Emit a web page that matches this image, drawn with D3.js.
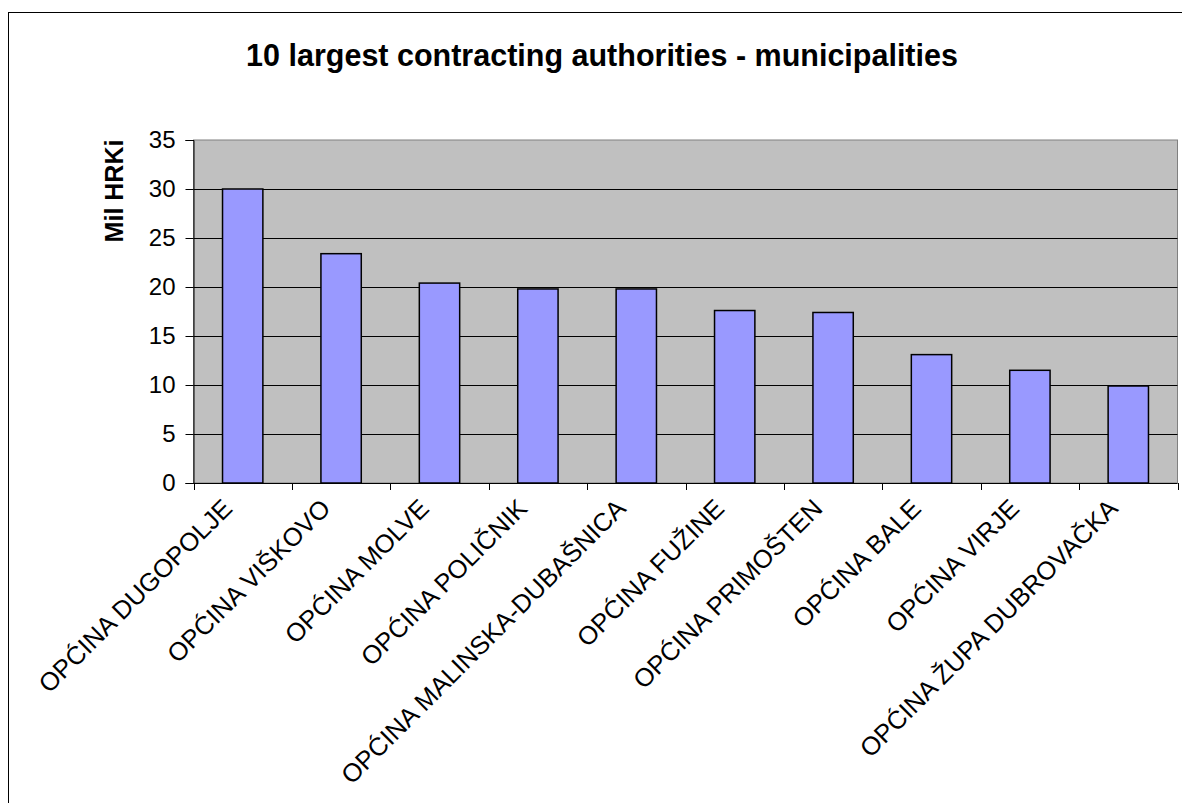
<!DOCTYPE html>
<html>
<head>
<meta charset="utf-8">
<script src="https://cdn.jsdelivr.net/npm/d3@7"></script>
<style>
  html, body { margin: 0; padding: 0; background: #fff; }
  svg { display: block; font-family: "Liberation Sans", Arial, sans-serif; }
</style>
</head>
<body>
<svg id="chart" width="1182" height="803"></svg>
<script>
const categories = [
  "OPĆINA DUGOPOLJE",
  "OPĆINA VIŠKOVO",
  "OPĆINA MOLVE",
  "OPĆINA POLIČNIK",
  "OPĆINA MALINSKA-DUBAŠNICA",
  "OPĆINA FUŽINE",
  "OPĆINA PRIMOŠTEN",
  "OPĆINA BALE",
  "OPĆINA VIRJE",
  "OPĆINA ŽUPA DUBROVAČKA"
];
const values = [30.0, 23.4, 20.4, 19.8, 19.8, 17.6, 17.4, 13.1, 11.5, 9.9];
const yTicks = [0, 5, 10, 15, 20, 25, 30, 35];
const titleText = "10 largest contracting authorities - municipalities";
const yTitle = "Mil HRKi";

(function () {
const svg = d3.select("#chart");
const pLeft = 193.5, pRight = 1177.5, pTop = 140, pBottom = 483;

// outer frame (extends beyond the visible window on right/bottom)
svg.append("rect")
  .attr("x", 8.5).attr("y", 12.5)
  .attr("width", 1300).attr("height", 1000)
  .attr("fill", "#fff").attr("stroke", "#000").attr("stroke-width", 1);

const x = d3.scaleBand().domain(categories).range([pLeft, pRight])
  .paddingInner(0.59).paddingOuter(0.295);
const y = d3.scaleLinear().domain([0, 35]).range([pBottom, pTop]);

// plot area
svg.append("rect")
  .attr("x", pLeft).attr("y", pTop)
  .attr("width", pRight - pLeft).attr("height", pBottom - pTop)
  .attr("fill", "#C0C0C0").attr("stroke", "#808080").attr("stroke-width", 1);

// gridlines
svg.append("g").selectAll("line")
  .data(yTicks.filter(t => t > 0 && t < 35))
  .join("line")
  .attr("x1", pLeft).attr("x2", pRight)
  .attr("y1", d => Math.round(y(d)) + 0.5).attr("y2", d => Math.round(y(d)) + 0.5)
  .attr("stroke", "#000").attr("stroke-width", 1);

// bars
svg.append("g").selectAll("rect")
  .data(categories)
  .join("rect")
  .attr("x", d => x(d))
  .attr("y", (d, i) => y(values[i]))
  .attr("width", x.bandwidth())
  .attr("height", (d, i) => y(0) - y(values[i]))
  .attr("fill", "#9999FF").attr("stroke", "#000").attr("stroke-width", 1.5);

// y axis
const yAxis = d3.axisLeft(y).tickValues(yTicks).tickSize(8).tickPadding(10);
const yg = svg.append("g").attr("transform", `translate(${pLeft},0)`).call(yAxis);
yg.select(".domain").attr("stroke", "#000");
yg.selectAll(".tick line").attr("stroke", "#000");
yg.selectAll("text").attr("font-size", 24).attr("fill", "#000")
  .attr("font-family", "Liberation Sans, Arial, sans-serif");

// x axis line and tick marks at category boundaries
const step = x.step();
const boundaries = d3.range(categories.length + 1).map(i => pLeft + i * step);
svg.append("line")
  .attr("x1", pLeft).attr("x2", pRight)
  .attr("y1", pBottom + 0.5).attr("y2", pBottom + 0.5)
  .attr("stroke", "#000");
svg.append("g").selectAll("line")
  .data(boundaries)
  .join("line")
  .attr("x1", d => Math.round(d) + 0.5).attr("x2", d => Math.round(d) + 0.5)
  .attr("y1", pBottom).attr("y2", pBottom + 7)
  .attr("stroke", "#000");

// category labels
svg.append("g").selectAll("text")
  .data(categories)
  .join("text")
  .attr("transform", d => `translate(${x(d) + x.bandwidth() / 2 - 9},${pBottom + 27}) rotate(-45)`)
  .attr("text-anchor", "end")
  .attr("font-size", 25.5)
  .attr("fill", "#000")
  .text(d => d);

// title
svg.append("text")
  .attr("x", 602).attr("y", 66)
  .attr("text-anchor", "middle")
  .attr("font-size", 30.5).attr("font-weight", "bold")
  .text(titleText);

// y-axis title
svg.append("text")
  .attr("transform", `translate(123,191) rotate(-90)`)
  .attr("text-anchor", "middle")
  .attr("font-size", 25).attr("font-weight", "bold")
  .text(yTitle);
})();
</script>
</body>
</html>
